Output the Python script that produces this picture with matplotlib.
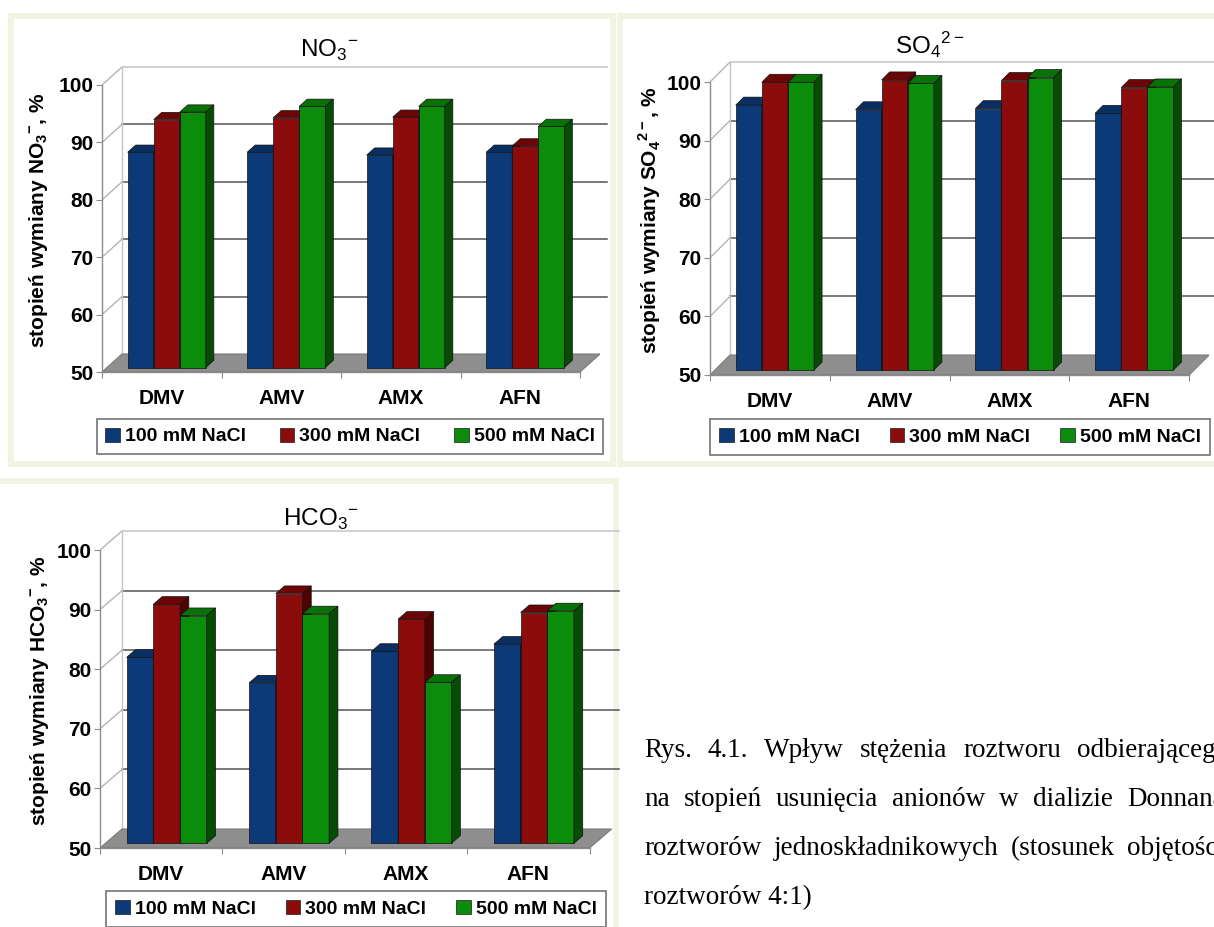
import numpy as np
import matplotlib.pyplot as plt
from matplotlib.patches import Polygon, Rectangle, Patch

# data
membranes = ['DMV', 'AMV', 'AMX', 'AFN']
series = ['100 mM NaCl', '300 mM NaCl', '500 mM NaCl']
no3 = [[87.5, 87.5, 87.0, 87.5],
       [93.2, 93.5, 93.6, 88.6],
       [94.5, 95.5, 95.5, 92.0]]
so4 = [[95.2, 94.4, 94.6, 93.8],
       [99.1, 99.5, 99.4, 98.2],
       [99.1, 98.9, 99.9, 98.3]]
hco3 = [[81.2, 76.9, 82.2, 83.4],
        [90.1, 91.9, 87.6, 88.7],
        [88.2, 88.5, 77.0, 89.0]]
y_ticks = [50, 60, 70, 80, 90, 100]

front_colors = ['#0c3a78', '#8c0b0b', '#0b8c0b']
top_colors = ['#0a2f62', '#6c0606', '#077307']
side_colors = ['#06214a', '#4e0303', '#054c05']

SANS = ['Liberation Sans Narrow', 'Liberation Sans', 'DejaVu Sans']
plt.rcParams['font.family'] = SANS
plt.rcParams['mathtext.fontset'] = 'custom'
plt.rcParams['mathtext.rm'] = 'Liberation Sans'
plt.rcParams['mathtext.bf'] = 'Liberation Sans:bold'

W, H = 1214, 927
fig = plt.figure(figsize=(W / 100, H / 100), dpi=100)


def fx(px):
    return px / W


def fy(py):
    return 1 - py / H


def frame(x0, y0, x1, y1):
    fig.patches.append(Rectangle((fx(x0), fy(y1)), fx(x1) - fx(x0), fy(y0) - fy(y1),
                                 transform=fig.transFigure, facecolor='#f3f3e3',
                                 edgecolor='none', zorder=-2))
    fig.patches.append(Rectangle((fx(x0 + 6), fy(y1 - 6)), fx(x1 - x0 - 12), fy(y0 + 6) - fy(y1 - 6),
                                 transform=fig.transFigure, facecolor='white',
                                 edgecolor='none', zorder=-1))


def panel(values, title, ylabel, x0, cat_px, y50, unit, dxp, dyp,
          title_xy, ylabel_x, legend_center, col_space):
    dx = dxp / cat_px
    dy = dyp / unit
    ax = fig.add_axes([fx(x0), fy(y50), (4 * cat_px + dxp) / W, (50 * unit + dyp) / H])
    ax.set_xlim(0, 4 + dx)
    ax.set_ylim(50, 100 + dy)
    ax.patch.set_visible(False)

    # walls and floor
    wall_end = 4 + dx + 0.06
    for v in y_ticks[1:]:
        col = '#c4c4c4' if v == 100 else '#555555'
        ax.plot([dx, wall_end], [v + dy, v + dy], color=col, lw=1.1, zorder=1, clip_on=False)
        ax.plot([0, dx], [v, v + dy], color='#b4b4b4', lw=1.0, zorder=1)
    ax.plot([dx, dx], [50 + dy, 100 + dy], color='#c4c4c4', lw=1.0, zorder=1)
    floor = Polygon([(0, 50), (4, 50), (4 + dx, 50 + dy), (dx, 50 + dy)],
                    facecolor='#8e8e8e', edgecolor='#7a7a7a', lw=0.8, zorder=2)
    ax.add_patch(floor)

    # 3d bars
    bw = 0.218
    gap = (1 - 3 * bw) / 2
    bx, by = 0.25 * dx, 0.25 * dy
    ddx, ddy = 0.4 * dx, 0.4 * dy
    for j in range(3):
        lefts = np.arange(4) + gap + j * bw + bx
        heights = np.array(values[j]) - 50
        bars = ax.bar(lefts, heights, width=bw, bottom=50 + by, align='edge',
                      color=front_colors[j], edgecolor='#111111', lw=0.5)
        for i, b in enumerate(bars):
            z = 3 + i * 3 + j
            b.set_zorder(z)
            xl = lefts[i]
            top = values[j][i] + by
            ax.add_patch(Polygon([(xl, top), (xl + bw, top), (xl + bw + ddx, top + ddy),
                                  (xl + ddx, top + ddy)], facecolor=top_colors[j],
                                 edgecolor='#111111', lw=0.5, zorder=z))
            ax.add_patch(Polygon([(xl + bw, 50 + by), (xl + bw, top), (xl + bw + ddx, top + ddy),
                                  (xl + bw + ddx, 50 + by + ddy)], facecolor=side_colors[j],
                                 edgecolor='#111111', lw=0.5, zorder=z))

    # axes
    for s in ['top', 'right']:
        ax.spines[s].set_visible(False)
    ax.spines['left'].set_bounds(50, 100)
    ax.spines['bottom'].set_bounds(0, 4)
    for s in ['left', 'bottom']:
        ax.spines[s].set_color('#8c8c8c')
        ax.spines[s].set_linewidth(1.0)
    ax.set_yticks(y_ticks)
    ax.tick_params(axis='y', direction='out', length=4, color='#8c8c8c', pad=2,
                   labelsize=15, labelcolor='black')
    for lab in ax.get_yticklabels():
        lab.set_fontweight('bold')
    ax.set_xticks(range(5))
    ax.set_xticklabels([])
    ax.tick_params(axis='x', which='major', direction='out', length=4, color='#8c8c8c')
    ax.set_xticks(np.arange(4) + 0.5, minor=True)
    ax.set_xticklabels(membranes, minor=True, fontsize=15, fontweight='bold')
    ax.tick_params(axis='x', which='minor', length=0, pad=12)

    fig.text(fx(title_xy[0]), fy(title_xy[1]), title, ha='center', va='baseline',
             fontsize=17.5)
    fig.text(fx(ylabel_x), fy(y50 - 25 * unit - 8), ylabel, rotation=90, ha='center',
             va='center', fontsize=15, fontweight='bold', family=['Liberation Sans', 'DejaVu Sans'])

    handles = [Patch(facecolor=c, edgecolor='#1a1a1a', lw=0.5) for c in front_colors]
    leg = fig.legend(handles, series, loc='center', ncol=3,
                     bbox_to_anchor=(fx(legend_center[0]), fy(legend_center[1])),
                     borderaxespad=0, frameon=True, fancybox=False, edgecolor='#7f7f7f',
                     framealpha=1, handlelength=0.75, handleheight=0.75, handletextpad=0.25,
                     columnspacing=col_space, borderpad=0.45,
                     prop={'weight': 'bold', 'size': 14})
    leg.get_frame().set_linewidth(1.3)
    return ax


frame(8, 13, 616, 467)
frame(617, 13, 1222, 467)
frame(-6, 478, 619, 935)

panel(no3, r'$\mathrm{NO}_{3}{}^{-}$', r'stopień wymiany NO$_\mathbf{3}{}^\mathbf{-}$, %',
      102, 119.5, 372, 5.74, 20, 18, (329, 57), 39, (350, 436.5), 1.75)
panel(so4, r'$\mathrm{SO}_{4}{}^{2-}$', r'stopień wymiany SO$_\mathbf{4}{}^\mathbf{2-}$, %',
      710, 119.8, 375, 5.86, 20, 20, (930, 55), 650, (960, 437), 1.55)
panel(hco3, r'$\mathrm{HCO}_{3}{}^{-}$', r'stopień wymiany HCO$_\mathbf{3}{}^\mathbf{-}$, %',
      100, 122.4, 848, 5.96, 22, 19, (321, 526), 40, (356, 909), 1.55)

# caption, justified between first and last word start
caption = [("Rys. 4.1. Wpływ stężenia roztworu odbierającego", 644, 1077, 757),
           ("na stopień usunięcia anionów w dializie Donnana", 644, 1127, 806),
           ("roztworów jednoskładnikowych (stosunek objętości", 644, 1127, 855),
           ("roztworów 4:1)", 644, None, 904)]
cap_font = {'family': ['Liberation Serif', 'DejaVu Serif'], 'size': 19.5, 'weight': 'normal'}
renderer = fig.canvas.get_renderer()
for line, xs, xe, yb in caption:
    if xe is None:
        fig.text(fx(xs), fy(yb), line, va='baseline', ha='left', **cap_font)
        continue
    words = line.split()
    texts = [fig.text(0, 0, w, va='baseline', ha='left', **cap_font) for w in words]
    widths = [t.get_window_extent(renderer).width for t in texts]
    space = (xe - xs - sum(widths[:-1])) / (len(words) - 1)
    x = xs
    for t, w in zip(texts, widths):
        t.set_position((fx(x), fy(yb)))
        x += w + space

fig.savefig('out.png', dpi=100)
